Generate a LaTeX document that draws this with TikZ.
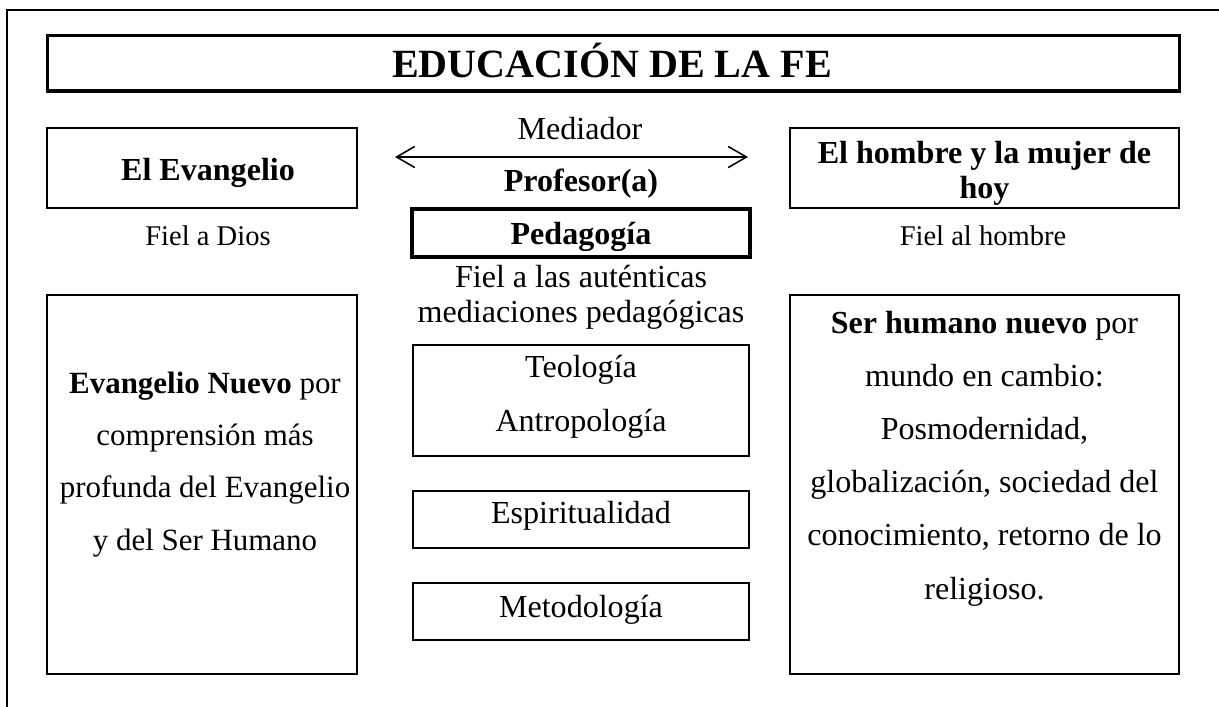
\documentclass[tikz,border=0pt]{standalone}
\usepackage{fontspec}
\setmainfont{Liberation Serif}
\usetikzlibrary{arrows.meta}
\usetikzlibrary{positioning}
\newcommand{\fbody}{\fontsize{22.8}{37.7}\selectfont}
\newcommand{\fsmall}{\fontsize{20.3}{24.2}\selectfont}
\newcommand{\fmid}{\fontsize{22.8}{24.4}\selectfont}
\newcommand{\ftitle}{\fontsize{28.5}{34}\selectfont}
\tikzset{caja/.style={draw,line width=1.42pt,inner sep=0pt,outer sep=0pt}}
\tikzset{cajagruesa/.style={caja,line width=2.35pt}}
\tikzset{txt/.style={inner sep=0pt,anchor=base,font=\fbody}}
\tikzset{txtsmall/.style={txt,font=\fsmall}}
\tikzset{marco/.style={line width=1.42pt}}
\tikzset{flecha/.style={line width=1.1pt,{Straight Barb[length=13pt,width=15pt]}-{Straight Barb[length=13pt,width=15pt]}}}

\begin{document}
\begin{tikzpicture}[x=0.025cm,y=-0.025cm]
  \useasboundingbox (0,0) rectangle (1219,706);
  % Frame
  \draw[marco] (7,712) -- (7,10) -- (1225,10);

  % Boxes
  \node[cajagruesa,minimum width=28.29cm,minimum height=1.39cm] (titulo) at (613.75,63.25) {};
  \node[caja,minimum width=7.74cm,minimum height=2cm] (evangelio) at (202.25,168) {};
  \node[caja,minimum width=9.725cm,minimum height=2cm] (hombre) at (984.5,168) {};
  \node[cajagruesa,minimum width=8.45cm,minimum height=1.2cm] (pedagogia) at (581,233) {};
  \node[caja,minimum width=8.4cm,minimum height=2.775cm] (teologia) at (581,400.5) {};
  \node[caja,minimum width=8.4cm,minimum height=1.425cm] (espiritualidad) at (581,519.5) {};
  \node[caja,minimum width=8.4cm,minimum height=1.425cm] (metodologia) at (581,611.5) {};
  \node[caja,minimum width=7.74cm,minimum height=9.475cm] (evnuevo) at (202.25,484.5) {};
  \node[caja,minimum width=9.725cm,minimum height=9.475cm] (sernuevo) at (984.5,484.5) {};

  % Labels (multi-line ones sit on their last line)
  \node[txt,font=\ftitle] (titulotxt) at (612,77) {\textbf{EDUCACIÓN DE LA FE}};
  \node[txt] (evangeliotxt) at (208,180) {\textbf{El Evangelio}};
  \node[txt,font=\fmid,align=center] (hombretxt) at (984.5,198) {\textbf{El hombre y la mujer de}\\\textbf{hoy}};
  \node[txtsmall] (dios) at (208,245) {Fiel a Dios};
  \node[txtsmall] (fielhombre) at (983,245) {Fiel al hombre};
  \node[txt] (mediador) at (580,139) {Mediador};
  \node[txt] (profesor) at (581,191) {\textbf{Profesor(a)}};
  \node[txt] (pedagogiatxt) at (581,244) {\textbf{Pedagogía}};
  \node[txt,font=\fmid,align=center] (mediaciones) at (581,322) {Fiel a las auténticas\\mediaciones pedagógicas};
  \node[txt,align=center] (teologiatxt) at (581,431) {Teología\\Antropología};
  \node[txt] (espiritualidadtxt) at (581,523) {Espiritualidad};
  \node[txt] (metodologiatxt) at (581,617) {Metodología};
  \node[txt,align=center,font=\fontsize{22}{37.2}\selectfont] (evnuevotxt) at (205,550) {\textbf{Evangelio Nuevo} por\\comprensión más\\profunda del Evangelio\\y del Ser Humano};
  \node[txt,align=center] (sernuevotxt) at (984.5,599) {\textbf{Ser humano nuevo} por\\mundo en cambio:\\Posmodernidad,\\globalización, sociedad del\\conocimiento, retorno de lo\\religioso.};

  % Arrow
  \coordinate (izq) at (395,157);
  \coordinate (der) at (748,157);
  \draw[flecha] (izq) -- (der);
\end{tikzpicture}
\end{document}
